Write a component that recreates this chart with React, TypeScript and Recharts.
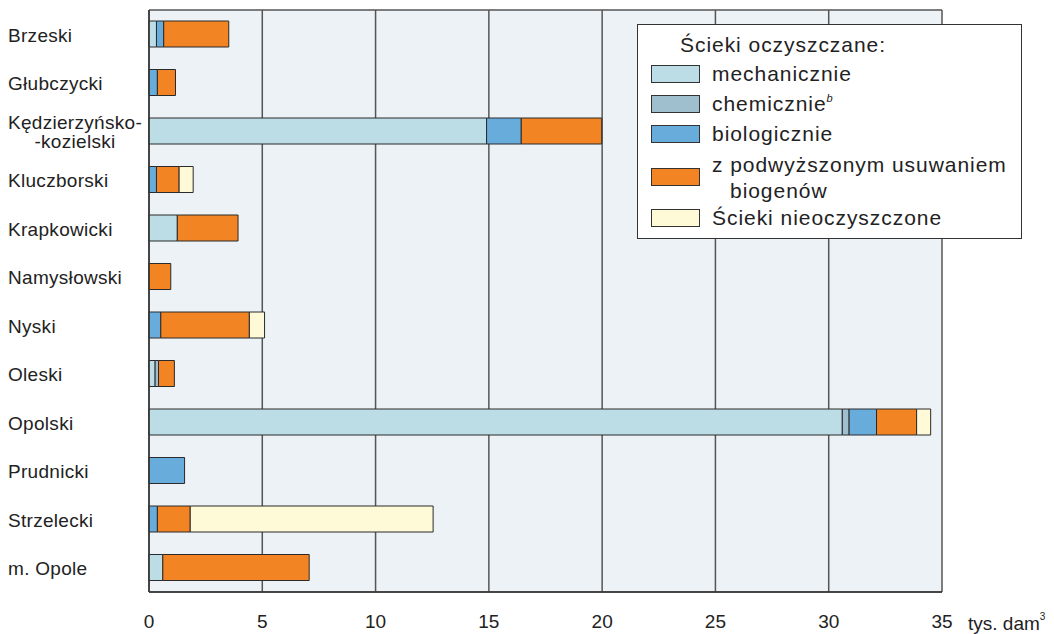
import React from "react";
import { BarChart, Bar, XAxis, YAxis, CartesianGrid } from "recharts";

// powiaty (top to bottom)
const categories = [
  "Brzeski",
  "Głubczycki",
  "Kędzierzyńsko-\n-kozielski",
  "Kluczborski",
  "Krapkowicki",
  "Namysłowski",
  "Nyski",
  "Oleski",
  "Opolski",
  "Prudnicki",
  "Strzelecki",
  "m. Opole",
];

// tys. dam3
const mechaniczne = [0.33, 0, 14.9, 0, 1.25, 0, 0, 0.27, 30.6, 0, 0, 0.61];
const chemiczne = [0, 0, 0, 0, 0, 0, 0, 0.15, 0.3, 0, 0, 0];
const biologiczne = [0.32, 0.37, 1.53, 0.33, 0, 0, 0.52, 0, 1.21, 1.57, 0.37, 0];
const podwyzszone = [2.87, 0.8, 3.55, 1.0, 2.68, 0.96, 3.91, 0.7, 1.77, 0, 1.45, 6.46];
const nieoczyszczone = [0, 0, 0, 0.62, 0, 0, 0.67, 0, 0.62, 0, 10.72, 0];

const xTicks = [0, 5, 10, 15, 20, 25, 30, 35];

const series = [
  { key: "mech", label: "mechanicznie", color: "#bcdde6" },
  { key: "chem", label: "chemicznie", color: "#9fbfcf" },
  { key: "bio", label: "biologicznie", color: "#68acdc" },
  { key: "podw", label: "z podwyższonym usuwaniem\nbiogenów", color: "#f38423" },
  { key: "nieocz", label: "Ścieki nieoczyszczone", color: "#fef9d7" },
];

const chartData = categories.map((name, i) => ({
  name,
  mech: mechaniczne[i],
  chem: chemiczne[i],
  bio: biologiczne[i],
  podw: podwyzszone[i],
  nieocz: nieoczyszczone[i],
}));

const font = "Arial, 'Liberation Sans', Helvetica, sans-serif";

const YTick = (props: any) => {
  const { y, payload } = props;
  const lines = String(payload.value).split("\n");
  if (lines.length === 1) {
    return (
      <text x={8} y={y + 1} dominantBaseline="central" fontSize={19} letterSpacing={0.3} fill="#222" fontFamily={font}>
        {lines[0]}
      </text>
    );
  }
  return (
    <text x={75} y={y} textAnchor="middle" fontSize={19} letterSpacing={0.3} fill="#222" fontFamily={font}>
      {lines.map((l, i) => (
        <tspan key={i} x={75} y={y + (i === 0 ? -9 : 10)} dominantBaseline="central">
          {l}
        </tspan>
      ))}
    </text>
  );
};

const XTick = (props: any) => {
  const { x, payload } = props;
  return (
    <text x={x} y={621} textAnchor="middle" dominantBaseline="central" fontSize={19} fill="#222" fontFamily={font}>
      {payload.value}
    </text>
  );
};

const UnitLabel = () => (
  <text x={968} y={623} dominantBaseline="central" fontSize={19} fill="#222" fontFamily={font}>
    tys.  dam
    <tspan dy={-7} fontSize={10}>3</tspan>
  </text>
);

const LegendBox = () => (
  <div
    style={{
      position: "absolute",
      left: 637,
      top: 24,
      width: 385,
      height: 215,
      background: "#fff",
      border: "1px solid #333",
      fontFamily: font,
      fontSize: 21,
      letterSpacing: 0.95,
      color: "#222",
      boxSizing: "border-box",
    }}
  >
    <div style={{ position: "absolute", left: 42, top: 8, whiteSpace: "nowrap", lineHeight: "24px" }}>
      Ścieki oczyszczane:
    </div>
    {series.map((s, i) => {
      const tops = [38, 68, 98, 129, 182];
      const two = s.label.includes("\n");
      const [first, second] = s.label.split("\n");
      return (
        <div key={s.key} style={{ position: "absolute", left: 13, top: tops[i], whiteSpace: "nowrap" }}>
          <div
            style={{
              position: "absolute",
              left: 0,
              top: two ? 14 : 2,
              width: 49,
              height: 18,
              background: s.color,
              border: "1px solid #333",
              boxSizing: "border-box",
            }}
          />
          <div style={{ position: "absolute", left: 61, top: -2, lineHeight: "26px" }}>
            {first}
            {s.key === "chem" && (
              <span style={{ fontSize: 11, fontStyle: "italic", position: "relative", top: -9, lineHeight: 0 }}>b</span>
            )}
            {two && <div style={{ paddingLeft: 18 }}>{second}</div>}
          </div>
        </div>
      );
    })}
  </div>
);

export default function App() {
  return (
    <div style={{ position: "absolute", left: 0, top: 0, width: 1054, height: 634, background: "#fff" }}>
      <BarChart
        width={1054}
        height={634}
        data={chartData}
        layout="vertical"
        margin={{ top: 10, right: 112, left: 0, bottom: 12 }}
        barSize={26}
      >
        <CartesianGrid
          fill="#edf2f6"
          stroke="#555"
          strokeWidth={1.5}
          horizontalPoints={[10, 592]}
        />
        <XAxis
          type="number"
          domain={[0, 35]}
          ticks={xTicks}
          tickLine={false}
          axisLine={{ stroke: "#333", strokeWidth: 1.5 }}
          height={30}
          tick={<XTick />}
          interval={0}
          label={<UnitLabel />}
        />
        <YAxis
          type="category"
          dataKey="name"
          width={149}
          tickLine={false}
          axisLine={{ stroke: "#333", strokeWidth: 1.5 }}
          tick={<YTick />}
          interval={0}
        />
        {series.map((s) => (
          <Bar
            key={s.key}
            dataKey={s.key}
            stackId="a"
            fill={s.color}
            stroke="#2a2a2a"
            strokeWidth={1}
            isAnimationActive={false}
          />
        ))}
      </BarChart>
      <LegendBox />
    </div>
  );
}
